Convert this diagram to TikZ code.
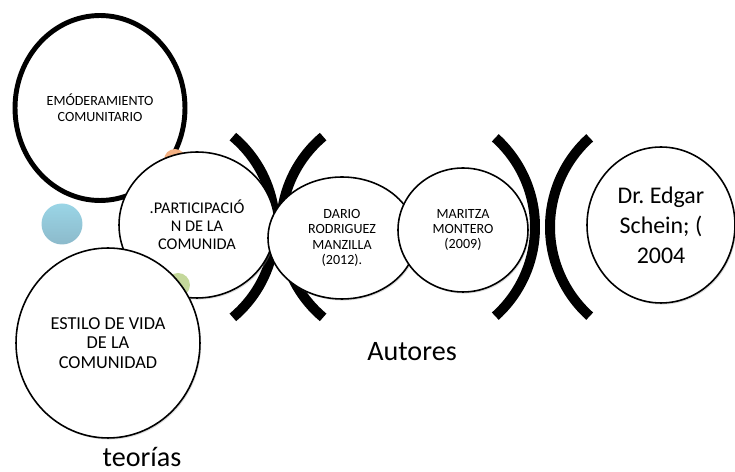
\documentclass[tikz,border=0pt]{standalone}
\usepackage{fontspec}
\setmainfont{Carlito}
\usepackage{tikz}
\usetikzlibrary{shapes, positioning, shadows}
\definecolor{dotblue}{HTML}{9AD5E6}
\definecolor{dotblueb}{HTML}{8CBACB}
\definecolor{dotorange}{HTML}{F4B183}
\definecolor{dotgreen}{HTML}{C4D89B}

\begin{document}
\begin{tikzpicture}[
	x=0.02cm, y=-0.02cm,
	circ/.style = {shape=ellipse, draw=black, fill=white, line width=0.9pt, inner sep=0mm, align=center,
		drop shadow={shadow xshift=0.7pt, shadow yshift=-0.9pt, fill=black!40, opacity=0.35}},
	thickcirc/.style = {circ, line width=2.8pt},
	dot/.style = {shape=ellipse, draw=none, inner sep=0mm},
	bracket/.style = {line width=0.2cm, black},
	lbl/.style = {shape=rectangle, draw=none, inner sep=0mm, font=\fontsize{16}{18}\selectfont},
	]
\useasboundingbox (0,0) rectangle (735,472);
% brackets, left pair then right pair
\draw[bracket] (157,227) ++(-50:118) arc[start angle=-50, end angle=50, radius=118];
\draw[bracket] (399,227) ++(230:118) arc[start angle=230, end angle=130, radius=118];
\draw[bracket] (415,227) ++(-48:120) arc[start angle=-48, end angle=48, radius=120];
\draw[bracket] (670,227) ++(228:120) arc[start angle=228, end angle=132, radius=120];
% left cluster
\node[thickcirc, minimum width=3.4cm, minimum height=3.7cm, font=\fontsize{8}{9}\selectfont] (emp) at (100,108) {EMÓDERAMIENTO\\COMUNITARIO};
\node[dot, fill=dotorange, minimum width=0.44cm, minimum height=0.44cm] (od) at (175,160) {};
\node[dot, top color=dotblue, bottom color=dotblueb, minimum width=0.82cm, minimum height=0.82cm] (bd) at (62,224) {};
\node[circ, minimum width=3.12cm, minimum height=2.92cm, font=\fontsize{9.3}{10.2}\selectfont] (part) at (197,225) {.PARTICIPACIÓ\\N DE LA\\COMUNIDA};
\node[dot, fill=dotgreen, minimum width=0.48cm, minimum height=0.48cm] (gd) at (178,285) {};
\node[circ, minimum width=3.68cm, minimum height=3.8cm, font=\fontsize{10.4}{11.3}\selectfont] (estilo) at (108,343) {ESTILO DE VIDA\\DE LA\\COMUNIDAD};
% authors
\node[circ, minimum width=2.96cm, minimum height=2.44cm, font=\fontsize{8}{8.8}\selectfont] (dario) at (342,238) {DARIO\\RODRIGUEZ\\MANZILLA\\(2012).};
\node[circ, minimum width=2.6cm, minimum height=2.48cm, font=\fontsize{8}{8.8}\selectfont] (maritza) at (463,230) {MARITZA\\MONTERO\\(2009)};
\node[circ, minimum width=2.96cm, minimum height=3.12cm, font=\fontsize{13.6}{17}\selectfont] (schein) at (661,225) {Dr.\ Edgar\\Schein; (\\2004};
% captions
\node[lbl] (teorias) at (142,457) {teorías};
\node[lbl] (autores) at (412,352) {Autores};
\end{tikzpicture}
\end{document}
